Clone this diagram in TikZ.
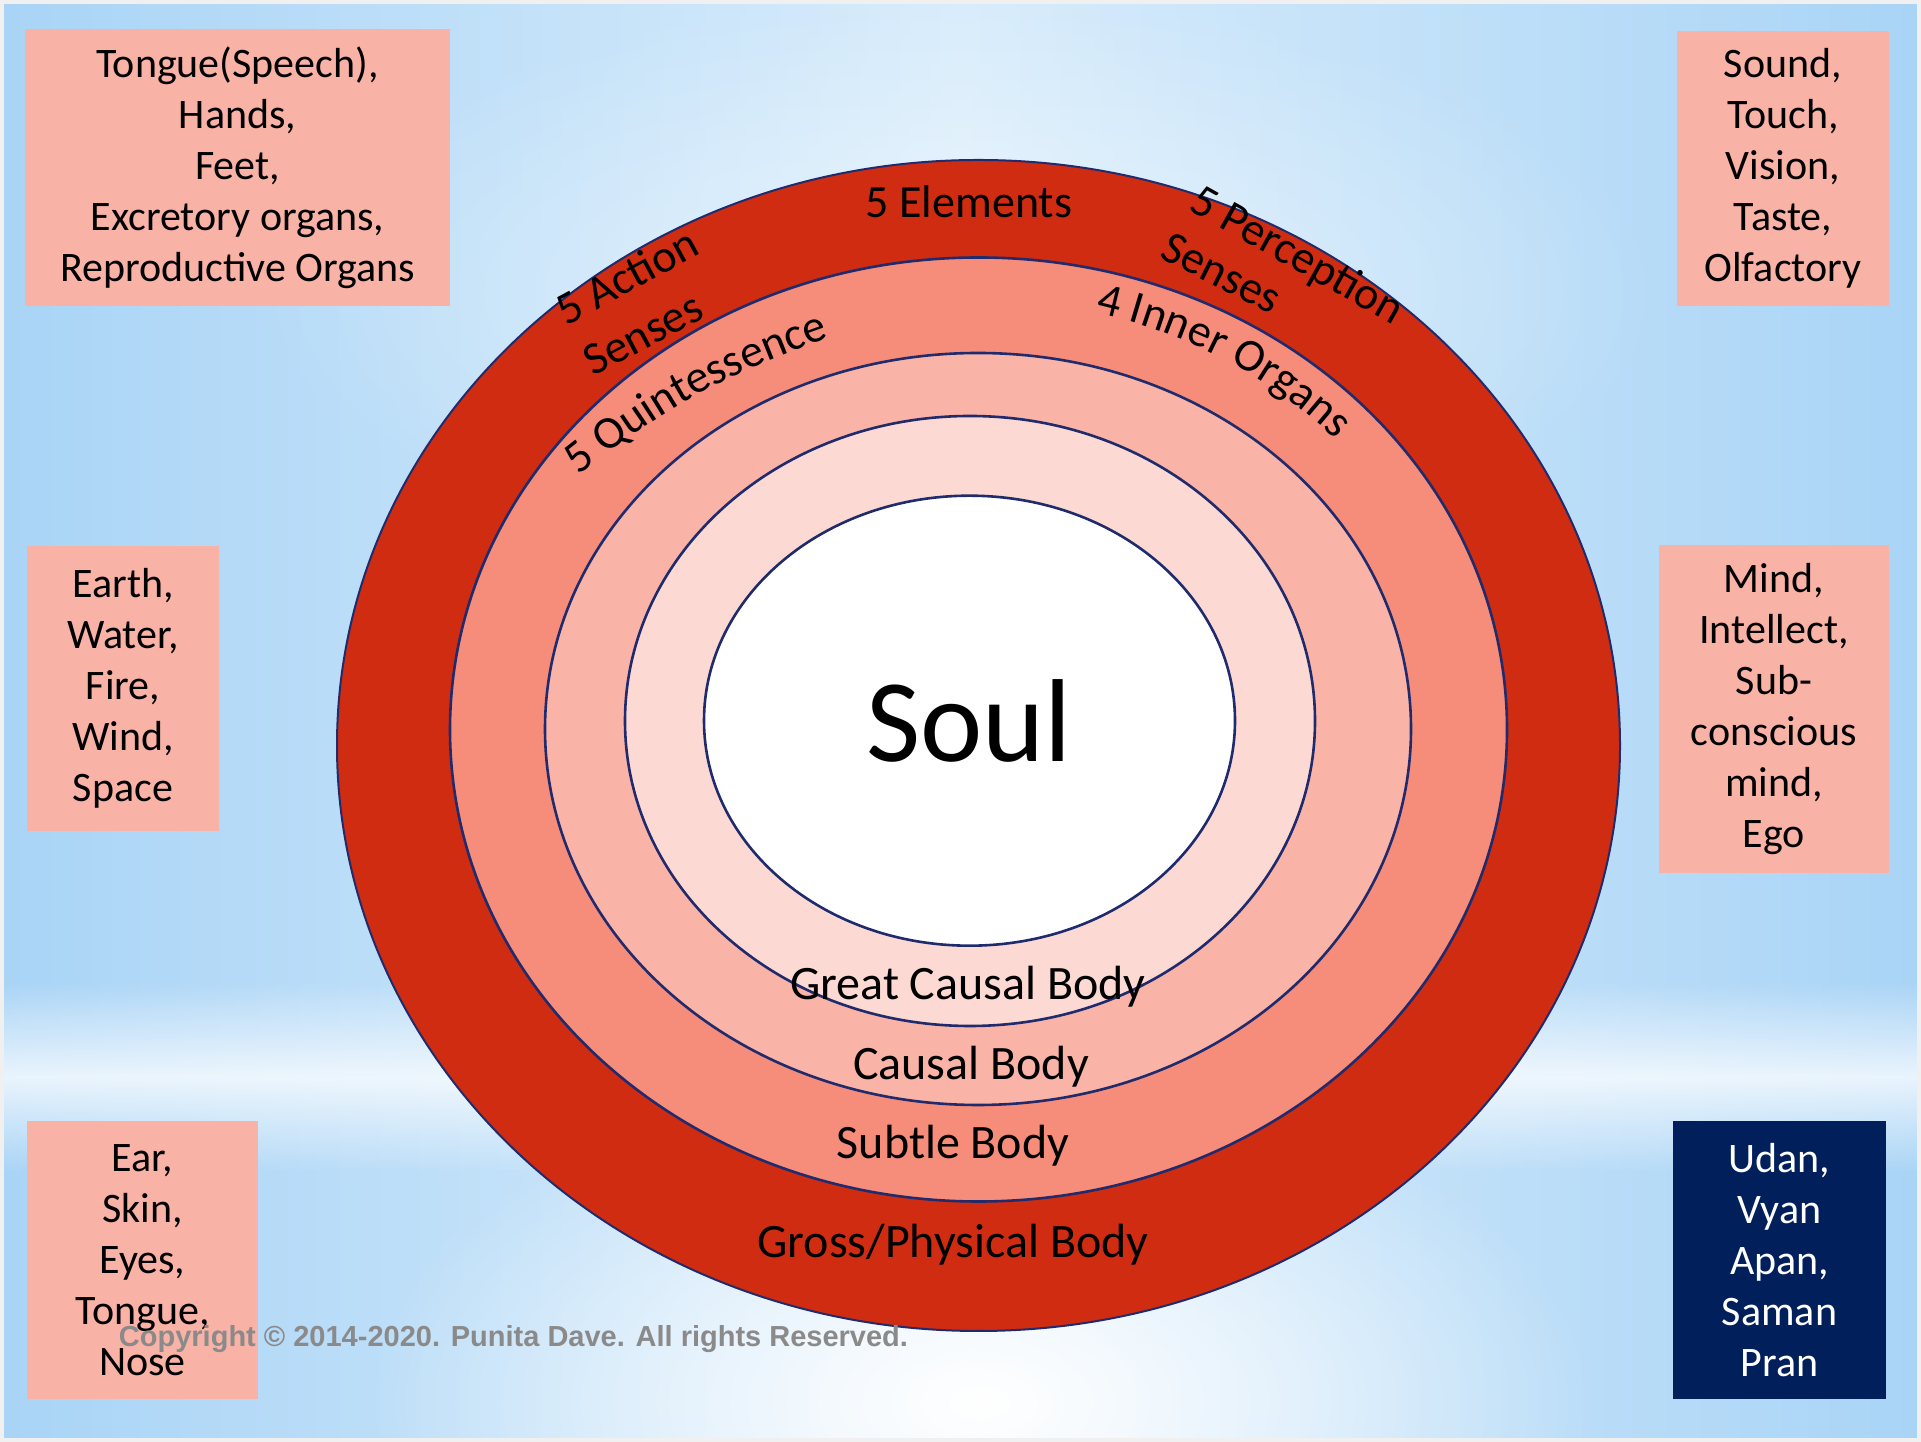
\documentclass[tikz,border=0pt]{standalone}
\usepackage{fontspec}
\setmainfont{Carlito}
\newfontfamily\cpfont{Liberation Sans}
\usetikzlibrary{calc,decorations.text,fadings}

\definecolor{bgmain}{HTML}{D8ECFB}
\definecolor{bgedge}{HTML}{A9D4F6}
\definecolor{ringA}{HTML}{D02C12}
\definecolor{ringB}{HTML}{F68D7B}
\definecolor{ringC}{HTML}{F9B3A7}
\definecolor{ringD}{HTML}{FCD9D3}
\definecolor{edgeblue}{HTML}{1F2B6C}
\definecolor{boxpink}{HTML}{F9B2A6}
\definecolor{boxnavy}{HTML}{001F5B}
\definecolor{cpgray}{HTML}{8A8A8A}

\tikzfading[name=bandfade, top color=transparent!100, bottom color=transparent!100, middle color=transparent!0]
\tikzfading[name=glowfade, inner color=transparent!0, outer color=transparent!100]

\newcommand{\ringfont}{\fontsize{46}{55}\selectfont}

\begin{document}
\begin{tikzpicture}[x=1pt,y=1pt,
  ring/.style={draw=edgeblue, line width=2.6pt},
  infobox/.style={fill=boxpink, inner sep=0pt, align=center, text=black, font=\fontsize{42}{51}\selectfont},
  navybox/.style={infobox, fill=boxnavy, text=white},
  bodylbl/.style={anchor=base, inner sep=0pt, font=\fontsize{48}{58}\selectfont},
  senselbl/.style={anchor=base, inner sep=0pt, font=\ringfont},
  curvelbl/.style={decorate, decoration={text along path, text align=center, text={|\ringfont|#1}}}
]
\useasboundingbox (0,0) rectangle (1921,1442);

% background
\shade[left color=bgedge, right color=bgedge, middle color=bgmain] (0,0) rectangle (1921,1442);
\fill[white, path fading=bandfade, opacity=0.75] (0,270) rectangle (1921,460);
\fill[white, path fading=glowfade] (980,40) ellipse [x radius=620, y radius=330];
\fill[white, path fading=glowfade, opacity=0.5] (960,1150) ellipse [x radius=700, y radius=300];
\draw[white!88!gray, line width=4pt] (2,2) rectangle (1919,1440);

% rings
\filldraw[ring, fill=ringA, line width=2pt] (978.5,696.5) ellipse [x radius=641.5, y radius=585.5];
\filldraw[ring, fill=ringB] (978.5,712.5) ellipse [x radius=528.5, y radius=472];
\filldraw[ring, fill=ringC] (978,713) ellipse [x radius=433, y radius=376];
\filldraw[ring, fill=ringD] (970,721) ellipse [x radius=345, y radius=305];
\filldraw[ring, fill=white] (969.5,721.3) ellipse [x radius=265.5, y radius=225];

\coordinate (ringc) at (978,713);
\coordinate (qstart) at (571,960);
\coordinate (qend) at (839,1107);

% labels in rings
\node[anchor=base, inner sep=0pt, font=\fontsize{118}{130}\selectfont] (soul) at (969,680) {Soul};
\node[bodylbl] (great) at (968,442) {Great Causal Body};
\node[bodylbl] (causal) at (971,362) {Causal Body};
\node[bodylbl] (subtle) at (953,283) {Subtle Body};
\node[bodylbl] (gross) at (953,184) {Gross/Physical Body};

\node[senselbl] (elem) at (969,1224) {5 Elements};
\node[senselbl, rotate=28.5] (act1) at (634,1152) {5 Action};
\node[senselbl, rotate=28] (act2) at (650,1095) {Senses};
\node[senselbl, rotate=-29.3] (per1) at (1290.5,1174.5) {5 Perception};
\node[senselbl, rotate=-26.6] (per2) at (1215,1156) {Senses};

\path[curvelbl={5 Quintessence}] (qstart) to[bend left=10] (qend);
\path[curvelbl={4 Inner Organs}] ($(ringc)+(93.5:485 and 429)$) arc[start angle=93.5, end angle=23.5, x radius=485, y radius=429];

% side boxes
\node[infobox, minimum width=425, minimum height=277] (actbox) at (237.5,1274.5)
  {Tongue(Speech),\\Hands,\\Feet,\\Excretory organs,\\Reproductive Organs};
\node[infobox, minimum width=212, minimum height=275] (perbox) at (1783,1273.5)
  {Sound,\\Touch,\\Vision,\\Taste,\\Olfactory};
\node[infobox, minimum width=192, minimum height=285] (elembox) at (123,753.5)
  {Earth,\\Water,\\Fire,\\Wind,\\Space};
\node[infobox, minimum width=230, minimum height=328] (innerbox) at (1774,733)
  {Mind,\\Intellect,\\Sub-\\conscious\\mind,\\Ego};
\node[infobox, minimum width=231, minimum height=278] (sensebox) at (142.5,182)
  {Ear,\\Skin,\\Eyes,\\Tongue,\\Nose};
\node[navybox, minimum width=213, minimum height=278] (pranbox) at (1779.5,182)
  {Udan,\\Vyan\\Apan,\\Saman\\Pran};

% copyright
\node[anchor=base, inner sep=0pt, text=cpgray] (copy) at (513.5,95)
  {\resizebox{789pt}{21pt}{\cpfont\bfseries Copyright \textcopyright{} 2014-2020. Punita Dave. All rights Reserved.}};
\end{tikzpicture}
\end{document}
